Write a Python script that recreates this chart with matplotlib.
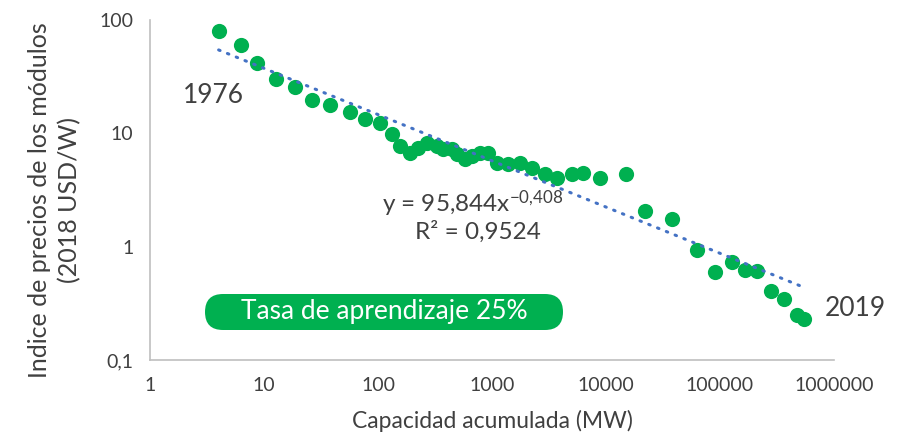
import matplotlib
matplotlib.use('Agg')
import matplotlib.pyplot as plt
import numpy as np
from matplotlib.patches import FancyBboxPatch

plt.rcParams['font.family'] = ['Lato', 'DejaVu Sans']
plt.rcParams['mathtext.default'] = 'regular'

# capacidad acumulada (MW) y precio de los módulos (2018 USD/W), 1976-2019
capacidad = [4.0, 6.3, 8.7, 12.7, 18.7, 26.4, 37.9, 56.8, 77, 104, 133, 156, 191,
             224, 269, 329, 372, 446, 493, 579, 668, 785, 923, 1107, 1381, 1762,
             2244, 2917, 3717, 5032, 6283, 8851, 14970, 21980, 37900, 62800, 90400,
             127400, 165600, 211000, 280000, 364000, 473000, 545000]
precio = [80, 60, 41.6, 30.1, 25.5, 19.6, 17.7, 15.3, 13.3, 12.3, 9.8, 7.67, 6.65,
          7.36, 8.16, 7.67, 7.22, 7.22, 6.52, 5.89, 6.26, 6.65, 6.65, 5.43, 5.32, 5.43,
          4.90, 4.34, 4.0, 4.34, 4.43, 4.0, 4.34, 2.08, 1.77, 0.94, 0.60,
          0.737, 0.626, 0.613, 0.408, 0.347, 0.25, 0.23]

# tendencia potencial y = 95,844 x^-0,408
coef_a = 95.844
coef_b = -0.408

xticks = [1, 10, 100, 1000, 10000, 100000, 1000000]
xtick_labels = ['1', '10', '100', '1000', '10000', '100000', '1000000']
yticks = [0.1, 1, 10, 100]
ytick_labels = ['0,1', '1', '10', '100']

texto = '#404040'
verde = '#00B050'

fig = plt.figure(figsize=(9.17, 4.41), dpi=100)
ax = fig.add_axes([150 / 917, 81 / 441, 684 / 917, 340 / 441])

ax.scatter(capacidad, precio, s=120, color=verde, zorder=3, linewidths=0)

x_tend = np.logspace(np.log10(capacidad[0]), np.log10(capacidad[-1]), 100)
ax.plot(x_tend, coef_a * x_tend ** coef_b, color='#4472C4', lw=2.2,
        linestyle=(0, (0.5, 2.6)), dash_capstyle='round', zorder=4)

ax.set_xscale('log')
ax.set_yscale('log')
ax.set_xlim(1, 1e6)
ax.set_ylim(0.1, 100)
ax.set_xticks(xticks)
ax.set_xticklabels(xtick_labels)
ax.set_yticks(yticks)
ax.set_yticklabels(ytick_labels)
ax.minorticks_off()
ax.tick_params(length=0, labelsize=14, colors=texto, pad=12)

for s in ['top', 'right']:
    ax.spines[s].set_visible(False)
for s in ['left', 'bottom']:
    ax.spines[s].set_color('#BFBFBF')
    ax.spines[s].set_linewidth(1.2)

ax.set_xlabel('Capacidad acumulada (MW)', fontsize=16.5, color=texto, labelpad=12)
ax.set_ylabel('Indice de precios de los módulos\n(2018 USD/W)', fontsize=18,
              color=texto, labelpad=12, linespacing=1.4)
ax.yaxis.set_label_coords(-0.1, 0.47)

ax.text(3.6, 21.5, '1976', fontsize=19, color=texto, ha='center', va='center')
fig.text(855 / 917, 1 - 308 / 441, '2019', fontsize=19, color=texto,
         ha='center', va='center')

fig.text(473 / 917, 1 - 204 / 441, 'y = 95,844x$^{-0{,}408}$', fontsize=17.5,
         color=texto, ha='center', va='center')
fig.text(478 / 917, 1 - 232 / 441, 'R² = 0,9524', fontsize=17.5,
         color=texto, ha='center', va='center')

caja = FancyBboxPatch((2.05, 1.11), 3.58, 0.36,
                      boxstyle='round,pad=0,rounding_size=0.18',
                      transform=fig.dpi_scale_trans, facecolor=verde,
                      edgecolor='none')
fig.add_artist(caja)
fig.text(384 / 917, 1 - 312 / 441, 'Tasa de aprendizaje 25%', fontsize=19,
         color='white', ha='center', va='center')

fig.savefig('out.png', dpi=100)
